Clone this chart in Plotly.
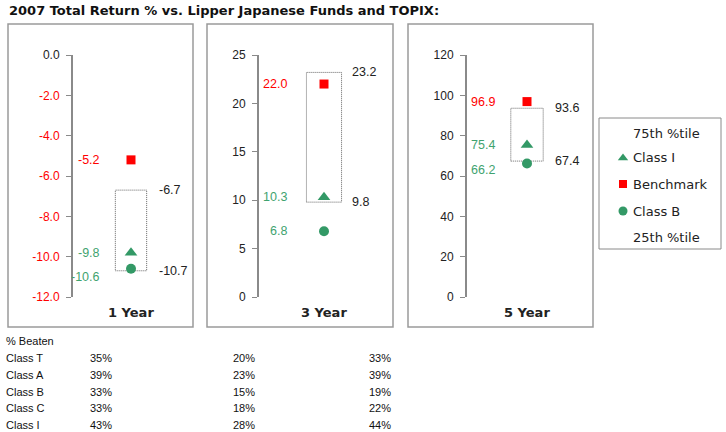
import plotly.graph_objects as go

W, H = 726, 432

# ---- data ----
periods = ["1 Year", "3 Year", "5 Year"]
pct75 = [-6.7, 23.2, 93.6]
pct25 = [-10.7, 9.8, 67.4]
class_i = [-9.8, 10.3, 75.4]
benchmark = [-5.2, 22.0, 96.9]
class_b = [-10.6, 6.8, 66.2]
y_ranges = [(-12, 0), (0, 25), (0, 120)]
y_dticks = [2, 5, 20]

table_classes = ["Class T", "Class A", "Class B", "Class C", "Class I"]
beaten_1y = [35, 39, 33, 33, 43]
beaten_3y = [20, 23, 15, 18, 28]
beaten_5y = [33, 39, 19, 22, 44]
beaten = [beaten_1y, beaten_3y, beaten_5y]

legend_items = ["75th %tile", "Class I", "Benchmark", "Class B", "25th %tile"]

# ---- style ----
RED = "#ff0000"
GREEN = "#339966"
GREEN_TXT = "#3fa36f"
DARK = "#222222"
TICKFONT = "Liberation Sans, Arial, sans-serif"
VFONT = "DejaVu Sans, Verdana, sans-serif"


def px(x):
    return x / W


def py(y):
    return 1 - y / H


axis_x = [73, 259, 467]
centers = [131, 324, 527]
plot_top, plot_bot = 55, 297
frames = [(8, 193), (207, 393), (408, 593)]
frame_top, frame_bot = 24, 327
left_off = [-29, -35, -30]
right_off = 26
classb_nudge = [-8, 0, -6]
box_half = 0.135

fig = go.Figure()
shapes = []
annotations = []

for i in range(3):
    sfx = "" if i == 0 else str(i + 1)
    xa, ya = "x" + sfx, "y" + sfx
    xd = [px(axis_x[i]), px(axis_x[i] + 2 * (centers[i] - axis_x[i]))]
    yd = [py(plot_bot), py(plot_top)]
    lo, hi = y_ranges[i]
    dt = y_dticks[i]
    tickvals = []
    v = lo
    while v <= hi + 1e-9:
        tickvals.append(v)
        v += dt
    if i == 0:
        ticktext = [
            (f"<span style='color:{RED}'>{t:.1f}</span>" if t < 0 else f"{t:.1f}")
            for t in tickvals
        ]
    else:
        ticktext = [str(int(t)) for t in tickvals]

    fig.layout["xaxis" + sfx] = dict(
        domain=xd, range=[-0.5, 0.5], type="category", categoryorder="array",
        categoryarray=[periods[i]], visible=False, anchor=ya, fixedrange=True,
        automargin=False,
    )
    fig.layout["yaxis" + sfx] = dict(
        domain=yd, range=[lo, hi], anchor=xa, showgrid=False, zeroline=False,
        showline=True, linecolor="#8a8a8a", linewidth=2, ticks="outside",
        ticklen=5, tickwidth=1, tickcolor="#8a8a8a", tickvals=tickvals,
        ticktext=ticktext, tickfont=dict(family=TICKFONT, size=12, color=DARK),
        ticklabelstandoff=4, fixedrange=True, automargin=False,
    )

    # percentile box
    shapes.append(dict(
        type="rect", xref=xa, yref=ya, x0=-box_half, x1=box_half,
        y0=pct25[i], y1=pct75[i], line=dict(color="#666666", width=1, dash="1px,1px"),
        layer="below",
    ))
    # panel frame
    shapes.append(dict(
        type="rect", xref="paper", yref="paper", x0=px(frames[i][0]), x1=px(frames[i][1]),
        y0=py(frame_bot), y1=py(frame_top), line=dict(color="#9a9a9a", width=1.5),
    ))

    # markers
    fig.add_trace(go.Scatter(
        x=[periods[i]], y=[class_i[i]], xaxis=xa, yaxis=ya, mode="markers",
        marker=dict(symbol="triangle-up", size=11, color=GREEN), showlegend=False,
    ))
    fig.add_trace(go.Scatter(
        x=[periods[i]], y=[benchmark[i]], xaxis=xa, yaxis=ya, mode="markers",
        marker=dict(symbol="square", size=9, color=RED), showlegend=False,
    ))
    fig.add_trace(go.Scatter(
        x=[periods[i]], y=[class_b[i]], xaxis=xa, yaxis=ya, mode="markers",
        marker=dict(symbol="circle", size=10, color=GREEN), showlegend=False,
    ))

    lf = dict(family=TICKFONT, size=12.5)
    annotations += [
        dict(xref=xa, yref=ya, x=0, y=benchmark[i], text=f"{benchmark[i]:.1f}",
             xanchor="right", yanchor="middle", xshift=left_off[i], showarrow=False,
             font=dict(lf, color=RED)),
        dict(xref=xa, yref=ya, x=0, y=class_i[i], text=f"{class_i[i]:.1f}",
             xanchor="right", yanchor="middle", xshift=left_off[i], showarrow=False,
             font=dict(lf, color=GREEN_TXT)),
        dict(xref=xa, yref=ya, x=0, y=class_b[i], text=f"{class_b[i]:.1f}",
             xanchor="right", yanchor="middle", xshift=left_off[i], yshift=classb_nudge[i],
             showarrow=False, font=dict(lf, color=GREEN_TXT)),
        dict(xref=xa, yref=ya, x=0, y=pct75[i], text=f"{pct75[i]:.1f}",
             xanchor="left", yanchor="middle", xshift=right_off, showarrow=False,
             font=dict(lf, color=DARK)),
        dict(xref=xa, yref=ya, x=0, y=pct25[i], text=f"{pct25[i]:.1f}",
             xanchor="left", yanchor="middle", xshift=right_off, showarrow=False,
             font=dict(lf, color=DARK)),
        dict(xref="paper", yref="paper", x=px(centers[i]), y=py(312),
             text=f"<b>{periods[i]}</b>", xanchor="center", yanchor="middle",
             showarrow=False, font=dict(family=VFONT, size=13, color=DARK)),
    ]

# ---- title ----
annotations.append(dict(
    xref="paper", yref="paper", x=px(7), y=py(11), xanchor="left", yanchor="middle",
    text="<b>2007 Total Return % vs. Lipper Japanese Funds and TOPIX:</b>",
    showarrow=False, font=dict(family=VFONT, size=13, color="#111111"),
))

# ---- legend (manual) ----
fig.layout["xaxis4"] = dict(domain=[0, 1], range=[0, W], visible=False, anchor="y4",
                            fixedrange=True, automargin=False)
fig.layout["yaxis4"] = dict(domain=[0, 1], range=[H, 0], visible=False, anchor="x4",
                            fixedrange=True, automargin=False)
shapes.append(dict(
    type="rect", xref="paper", yref="paper", x0=px(599), x1=px(721), y0=py(249), y1=py(118),
    line=dict(color="#8a8a8a", width=1),
))
leg_y = [133, 158, 184, 211, 237]
leg_marker = [None, ("triangle-up", GREEN, 9), ("square", RED, 8), ("circle", GREEN, 9), None]
for name, yy, mk in zip(legend_items, leg_y, leg_marker):
    if mk is not None:
        fig.add_trace(go.Scatter(
            x=[623], y=[yy], xaxis="x4", yaxis="y4", mode="markers",
            marker=dict(symbol=mk[0], color=mk[1], size=mk[2]), showlegend=False,
            hoverinfo="skip",
        ))
    annotations.append(dict(
        xref="paper", yref="paper", x=px(631), y=py(yy), text=name, xanchor="left",
        yanchor="middle", showarrow=False, font=dict(family=VFONT, size=13, color=DARK),
    ))

# ---- table ----
TFONT = dict(family=TICKFONT, size=11, color="#111111")
annotations.append(dict(xref="paper", yref="paper", x=px(4), y=py(341), text="% Beaten",
                        xanchor="left", yanchor="middle", showarrow=False, font=TFONT))
row_y = [358, 375, 392, 408, 425]
col_x = [88, 231, 367]
for r, cls in enumerate(table_classes):
    annotations.append(dict(xref="paper", yref="paper", x=px(4), y=py(row_y[r]), text=cls,
                            xanchor="left", yanchor="middle", showarrow=False, font=TFONT))
    for c in range(3):
        annotations.append(dict(xref="paper", yref="paper", x=px(col_x[c]), y=py(row_y[r]),
                                text=f"{beaten[c][r]}%", xanchor="left", yanchor="middle",
                                showarrow=False, font=TFONT))

fig.update_layout(
    width=W, height=H, margin=dict(l=0, r=0, t=0, b=0, pad=0),
    paper_bgcolor="white", plot_bgcolor="rgba(0,0,0,0)",
    shapes=shapes, annotations=annotations, showlegend=False,
)

fig.write_html(
    "out.html",
    config={"responsive": False, "displayModeBar": False},
    post_script="document.body.style.margin='0';document.body.style.overflow='hidden';",
)
